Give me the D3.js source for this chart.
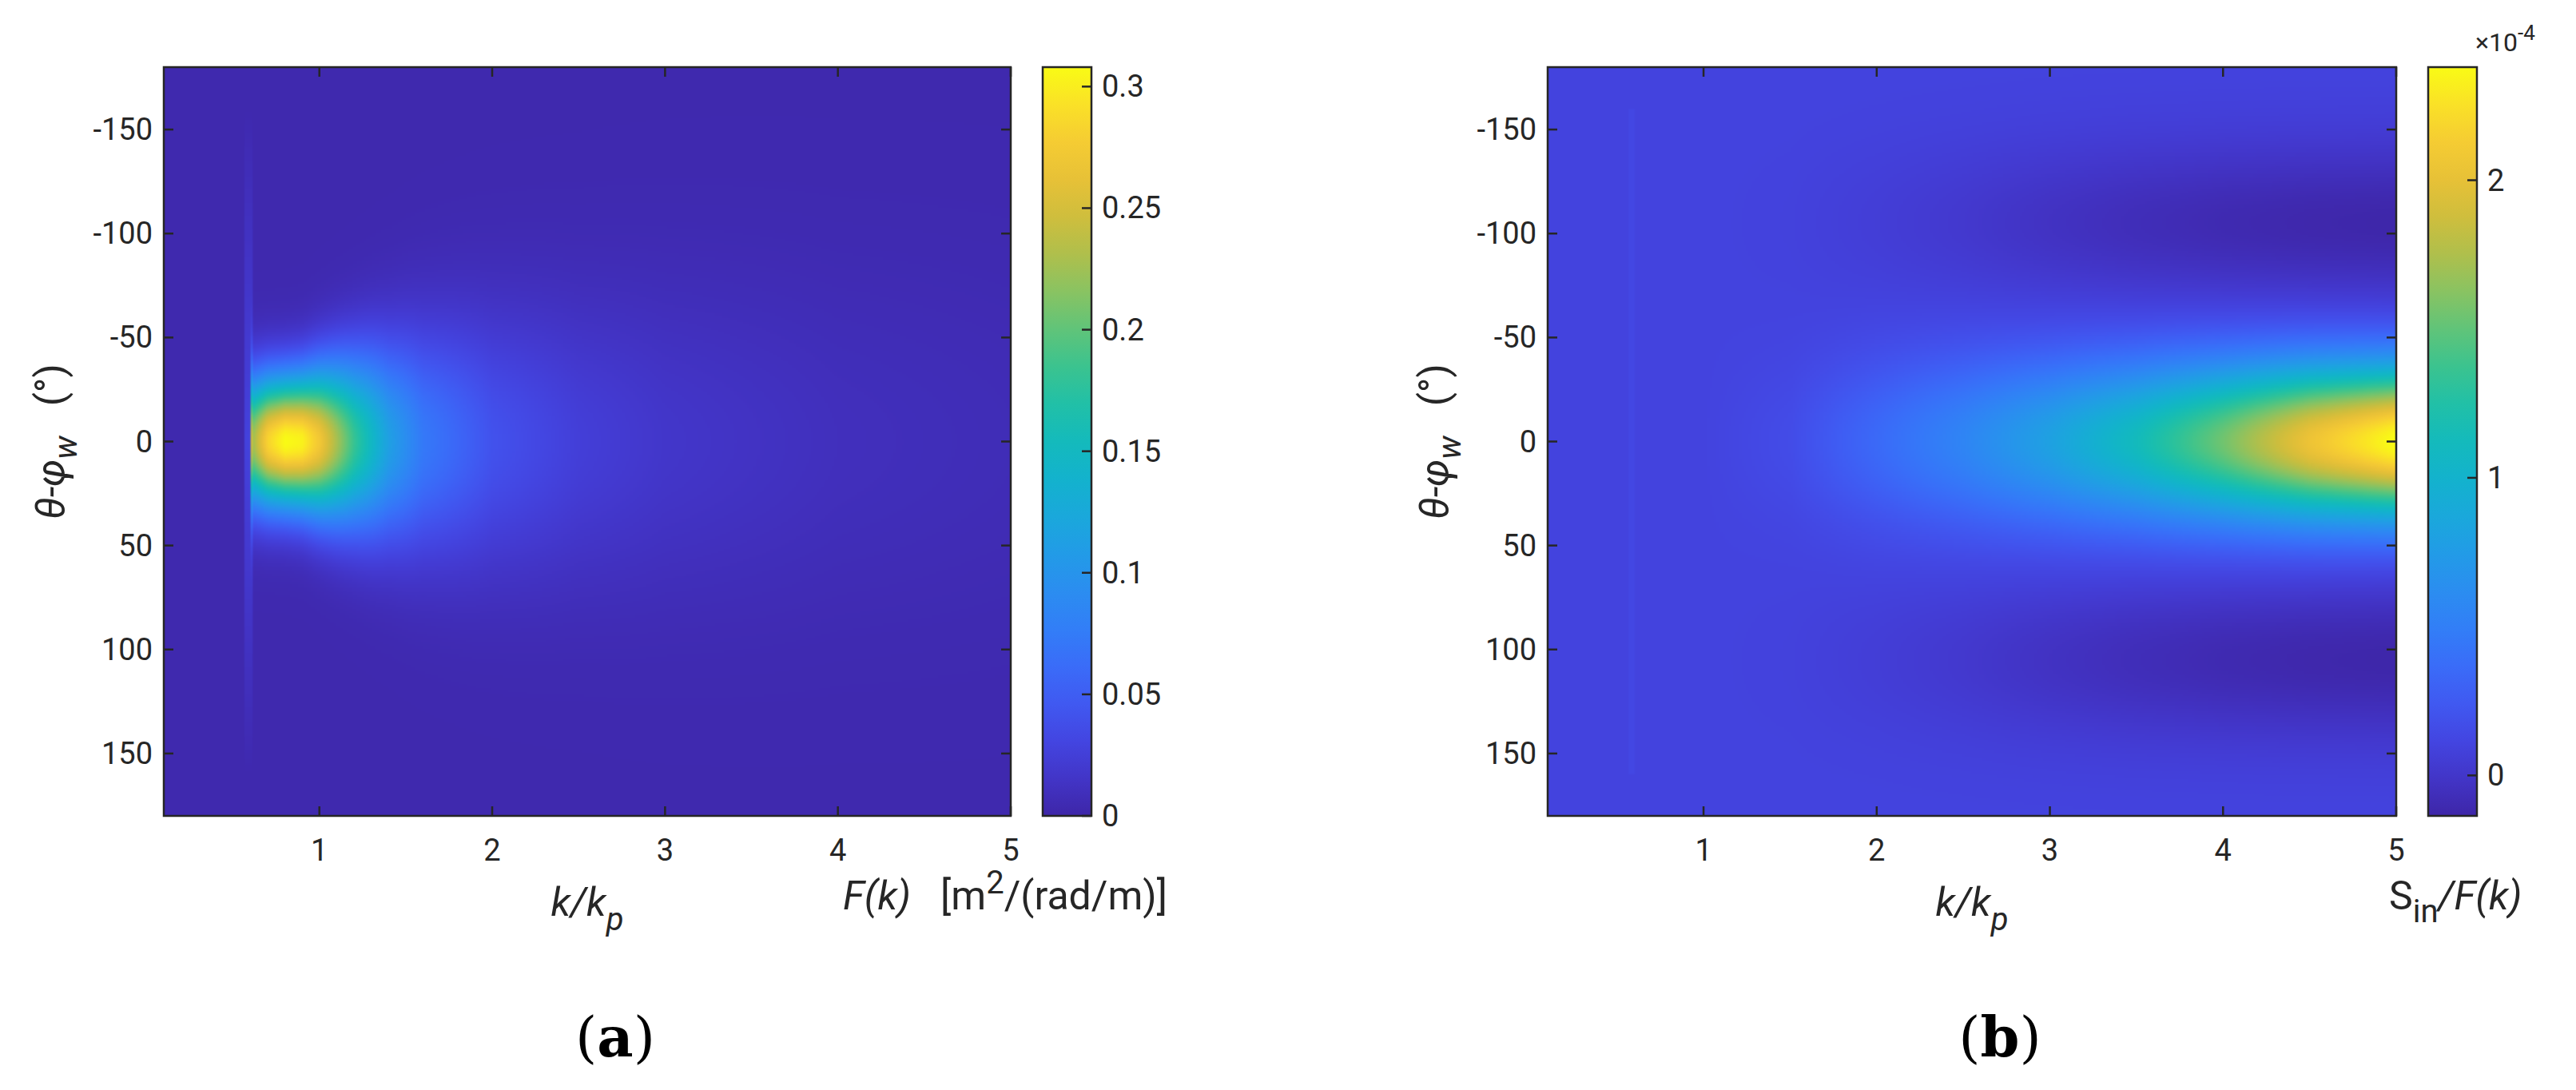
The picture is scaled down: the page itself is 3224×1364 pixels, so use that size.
<!DOCTYPE html>
<html><head><meta charset="utf-8">
<script src="https://cdn.jsdelivr.net/npm/d3@7"></script>
<style>
  body { margin: 0; background: #fff; }
  text { font-family: Roboto, "Liberation Sans", sans-serif; fill: #262626; white-space: pre; }
</style></head>
<body>
<svg id="fig" width="3224" height="1364"></svg>
<script>
  // ---- data ----
  // panel (a): spectrum F(k, theta)
  var aK      = [0.55, 0.6,  0.7,  0.8,  0.9,  1.0,  1.2,  1.4,  1.6,  2.0,  2.5,  3.0,  4.0,  5.0];
  var aPeak   = [0.0,  0.21, 0.28, 0.305,0.30, 0.27, 0.18, 0.11, 0.07, 0.038,0.022,0.014,0.007,0.004];
  var aWidth  = [30,   30,   30,   30,   31,   34,   40,   46,   52,   60,   66,   72,   78,   82];
  // panel (b): S_in / F(k) (units 1e-4)
  var bK      = [0.1,  1.0,  1.5,  2.0,  2.5,  3.0,  3.5,  4.0,  4.5,  5.0];
  var bPeak   = [0.0,  0.0,  0.06, 0.25, 0.45, 0.7,  1.02, 1.45, 1.95, 2.3];
  var bWidth  = [36,   36,   38,   40,   40,   39,   38,   37,   36,   35];
  var bNeg    = [0.0,  0.0,  0.01, 0.04, 0.08, 0.13, 0.17, 0.2,  0.22, 0.23];
  var bBase   = 0.1;

  var xTicks = [1, 2, 3, 4, 5];
  var yTicks = [-150, -100, -50, 0, 50, 100, 150];
  var aBarTicks = [0, 0.05, 0.1, 0.15, 0.2, 0.25, 0.3];
  var bBarTicks = [0, 1, 2];

  var parulaStops = ["#3e26a8", "#4743e8", "#3a6efd", "#2b8ef2", "#1aa9dc", "#0abcbf",
                     "#33c58f", "#8cc462", "#d5ba34", "#fcc53a", "#f9fb15"];

(function() {
  var parula = d3.interpolateRgbBasis(parulaStops);
  var svg = d3.select("#fig");
  var plotTop = 84, plotBottom = 1021;
  var labelY = 1146;

  function interp(ks, vs) {
    return d3.scaleLinear().domain(ks).range(vs).clamp(true);
  }

  function panel(opt) {
    var x = d3.scaleLinear().domain([0.1, 5]).range([opt.left, opt.right]);
    var y = d3.scaleLinear().domain([-180, 180]).range([plotTop, plotBottom]);
    var c = d3.scaleLinear().domain(opt.cdomain).range([0, 1]).clamp(true);

    // raster of the field
    var W = 400, H = 360;
    var cv = document.createElement("canvas");
    cv.width = W; cv.height = H;
    var ctx = cv.getContext("2d");
    var img = ctx.createImageData(W, H);
    for (var j = 0; j < H; j++) {
      var th = y.invert(plotTop + (j + 0.5) / H * (plotBottom - plotTop));
      for (var i = 0; i < W; i++) {
        var k = x.invert(opt.left + (i + 0.5) / W * (opt.right - opt.left));
        var col = d3.rgb(parula(c(opt.value(k, th))));
        var p = (j * W + i) * 4;
        img.data[p] = col.r; img.data[p + 1] = col.g; img.data[p + 2] = col.b; img.data[p + 3] = 255;
      }
    }
    ctx.putImageData(img, 0, 0);
    svg.append("image").attr("href", cv.toDataURL())
      .attr("x", opt.left).attr("y", plotTop)
      .attr("width", opt.right - opt.left).attr("height", plotBottom - plotTop)
      .attr("preserveAspectRatio", "none");

    var g = svg.append("g");
    g.append("rect").attr("x", opt.left).attr("y", plotTop)
      .attr("width", opt.right - opt.left).attr("height", plotBottom - plotTop)
      .attr("fill", "none").attr("stroke", "#262626").attr("stroke-width", 2.5);

    var tl = 12;
    xTicks.forEach(function(t) {
      g.append("line").attr("x1", x(t)).attr("x2", x(t)).attr("y1", plotBottom).attr("y2", plotBottom - tl).attr("stroke", "#262626").attr("stroke-width", 2.5);
      g.append("line").attr("x1", x(t)).attr("x2", x(t)).attr("y1", plotTop).attr("y2", plotTop + tl).attr("stroke", "#262626").attr("stroke-width", 2.5);
      g.append("text").attr("x", x(t)).attr("y", plotBottom + 56).attr("text-anchor", "middle").attr("font-size", 38).text(t);
    });
    yTicks.forEach(function(t) {
      g.append("line").attr("x1", opt.left).attr("x2", opt.left + tl).attr("y1", y(t)).attr("y2", y(t)).attr("stroke", "#262626").attr("stroke-width", 2.5);
      g.append("line").attr("x1", opt.right).attr("x2", opt.right - tl).attr("y1", y(t)).attr("y2", y(t)).attr("stroke", "#262626").attr("stroke-width", 2.5);
      g.append("text").attr("x", opt.left - 14).attr("y", y(t) + 13).attr("text-anchor", "end").attr("font-size", 38).text(t);
    });

    // axis labels
    var xl = g.append("text").attr("x", x(2.55)).attr("y", labelY).attr("text-anchor", "middle")
      .attr("font-size", 50).attr("font-style", "italic");
    xl.append("tspan").text("k/k");
    xl.append("tspan").attr("dy", 18).attr("font-size", 40).text("p");

    var yl = g.append("text").attr("transform", "translate(" + (opt.left - 125) + "," + y(0) + ") rotate(-90)")
      .attr("text-anchor", "middle").attr("font-size", 50);
    yl.append("tspan").attr("font-style", "italic").text("θ-φ");
    yl.append("tspan").attr("font-style", "italic").attr("dy", 16).attr("font-size", 40).text("w");
    yl.append("tspan").attr("dy", -16).text("   (°)");

    // colorbar
    var cb = d3.scaleLinear().domain([opt.cdomain[0], opt.cdomain[1]]).range([plotBottom, plotTop]);
    var grad = svg.append("defs").append("linearGradient").attr("id", "g" + opt.id)
      .attr("x1", 0).attr("x2", 0).attr("y1", 1).attr("y2", 0);
    d3.range(0, 1.0001, 0.05).forEach(function(t) {
      grad.append("stop").attr("offset", t).attr("stop-color", parula(t));
    });
    g.append("rect").attr("x", opt.cbx).attr("y", plotTop).attr("width", 61).attr("height", plotBottom - plotTop)
      .attr("fill", "url(#g" + opt.id + ")").attr("stroke", "#262626").attr("stroke-width", 2.5);
    opt.cticks.forEach(function(t) {
      g.append("line").attr("x1", opt.cbx + 61).attr("x2", opt.cbx + 49).attr("y1", cb(t)).attr("y2", cb(t)).attr("stroke", "#262626").attr("stroke-width", 2.5);
      g.append("text").attr("x", opt.cbx + 74).attr("y", cb(t) + 13).attr("font-size", 38).text(opt.cfmt(t));
    });

    // panel letter
    g.append("text").attr("x", (opt.left + opt.right) / 2 + 35).attr("y", 1322).attr("text-anchor", "middle")
      .attr("font-size", 70).style("font-family", "'DejaVu Serif', 'Liberation Serif', serif").style("fill", "#000")
      .html("(<tspan font-weight='bold'>" + opt.id + "</tspan>)");
    return g;
  }

  // panel (a)
  var aP = interp(aK, aPeak), aW = interp(aK, aWidth);
  var ga = panel({
    id: "a", left: 205, right: 1265, cbx: 1305,
    cdomain: [0, 0.308], cticks: aBarTicks, cfmt: function(t) { return t; },
    value: function(k, th) {
      var v = 0.003;
      if (k >= 0.6) v += aP(k) * Math.exp(-Math.pow(th / aW(k), 2));
      if (k > 0.56 && k < 0.61 && Math.abs(th) < 160) v += 0.025 * (1 - Math.abs(th) / 160);
      return v;
    }
  });
  var fl = ga.append("text").attr("x", 1055).attr("y", labelY - 8).attr("font-size", 50);
  fl.append("tspan").attr("font-style", "italic").text("F(k)");
  fl.append("tspan").text("   [m");
  fl.append("tspan").attr("dy", -20).attr("font-size", 40).text("2");
  fl.append("tspan").attr("dy", 20).text("/(rad/m)]");

  // panel (b)
  var bP = interp(bK, bPeak), bW = interp(bK, bWidth), bN = interp(bK, bNeg);
  var gb = panel({
    id: "b", left: 1937, right: 2999, cbx: 3039,
    cdomain: [-0.136, 2.38], cticks: bBarTicks, cfmt: function(t) { return t; },
    value: function(k, th) {
      var v = bBase + bP(k) * Math.exp(-Math.pow(th / bW(k), 2));
      v -= bN(k) * Math.exp(-Math.pow((Math.abs(th) - 105) / 38, 2));
      if (k > 0.56 && k < 0.6 && Math.abs(th) < 160) v += 0.03;
      return v;
    }
  });
  var sl = gb.append("text").attr("x", 2990).attr("y", labelY - 8).attr("font-size", 50);
  sl.append("tspan").text("S");
  sl.append("tspan").attr("dy", 16).attr("font-size", 40).text("in");
  sl.append("tspan").attr("dy", -16).attr("font-style", "italic").text("/F(k)");
  var ex = gb.append("text").attr("x", 3098).attr("y", 64).attr("font-size", 32);
  ex.append("tspan").text("×10");
  ex.append("tspan").attr("dy", -14).attr("font-size", 26).text("-4");
})();
</script>
</body></html>
